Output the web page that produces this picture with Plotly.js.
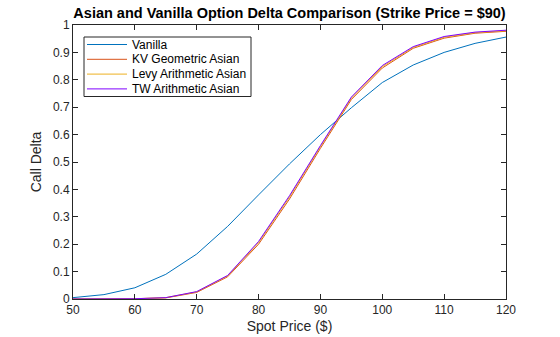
<!DOCTYPE html>
<html>
<head>
<meta charset="utf-8">
<script src="https://cdn.plot.ly/plotly-3.0.1.min.js"></script>
<style>html,body{margin:0;padding:0;background:#fff;}#chart{width:560px;height:337px;}</style>
</head>
<body>
<div id="chart"></div>
<script>
const spotPrice = [50, 55, 60, 65, 70, 75, 80, 85, 90, 95, 100, 105, 110, 115, 120];
const vanilla = [0.005, 0.016, 0.041, 0.09, 0.164, 0.265, 0.38, 0.493, 0.6, 0.698, 0.79, 0.854, 0.9, 0.933, 0.956];
const kvGeometric = [0, 0, 0.001, 0.004, 0.024, 0.081, 0.2, 0.365, 0.55, 0.728, 0.843, 0.915, 0.952, 0.97, 0.977];
const levyArithmetic = [0, 0, 0.001, 0.005, 0.026, 0.084, 0.206, 0.372, 0.556, 0.733, 0.848, 0.918, 0.955, 0.972, 0.979];
const twArithmetic = [0, 0, 0.001, 0.005, 0.027, 0.086, 0.21, 0.377, 0.56, 0.737, 0.852, 0.921, 0.958, 0.974, 0.981];
const seriesNames = ['Vanilla', 'KV Geometric Asian', 'Levy Arithmetic Asian', 'TW Arithmetic Asian'];
const seriesColors = ['#0072BD', '#D95319', '#EDB120', '#7F00FF'];
const xTicks = [50, 60, 70, 80, 90, 100, 110, 120];
const yTicks = [0, 0.1, 0.2, 0.3, 0.4, 0.5, 0.6, 0.7, 0.8, 0.9, 1];

const FONT = 'Liberation Sans, Arial, sans-serif';
const allY = [vanilla, kvGeometric, levyArithmetic, twArithmetic];
const traces = allY.map((ys, i) => ({
  x: spotPrice, y: ys, type: 'scatter', mode: 'lines', name: seriesNames[i],
  line: {color: seriesColors[i], width: 1}, showlegend: false
}));

// Plot area in pixels: left 73, right 506, top 25, bottom 299
const L = 73, R = 506, T = 25, B = 299;
const px = x => (x - L) / (R - L);
const py = y => (B - y) / (B - T);

// Compact MATLAB-style legend built from shapes + annotations
const shapes = [{
  type: 'rect', xref: 'paper', yref: 'paper',
  x0: px(84), x1: px(251), y0: py(96.5), y1: py(37),
  line: {color: '#262626', width: 1}, fillcolor: '#fff', layer: 'above'
}];
const annotations = [];
seriesNames.forEach((name, i) => {
  const yc = 44.5 + i * 14.8;
  shapes.push({type: 'line', xref: 'paper', yref: 'paper',
    x0: px(87), x1: px(127), y0: py(yc), y1: py(yc),
    line: {color: seriesColors[i], width: 1}, layer: 'above'});
  annotations.push({xref: 'paper', yref: 'paper', x: px(130), y: py(yc),
    xanchor: 'left', yanchor: 'middle', text: name, showarrow: false,
    font: {family: FONT, size: 12, color: '#000'}});
});

const axisCommon = {
  showgrid: false, zeroline: false, showline: true, linecolor: '#262626', linewidth: 1,
  mirror: 'allticks', ticks: 'inside', ticklen: 5, tickcolor: '#262626',
  tickfont: {family: FONT, size: 12, color: '#262626'}
};

const layout = {
  width: 560, height: 337,
  margin: {l: L, r: 560 - R, t: T, b: 337 - B},
  paper_bgcolor: '#fff', plot_bgcolor: '#fff',
  title: {text: '<b>Asian and Vanilla Option Delta Comparison (Strike Price = $90)</b>',
          font: {family: FONT, size: 14.5, color: '#000'},
          x: 0.517, xanchor: 'center', y: 0.962, yanchor: 'middle'},
  xaxis: Object.assign({}, axisCommon, {
    range: [50, 120], tickvals: xTicks, ticktext: xTicks.map(String),
    title: {text: 'Spot Price ($)', standoff: 4, font: {family: FONT, size: 14, color: '#262626'}}
  }),
  yaxis: Object.assign({}, axisCommon, {
    range: [0, 1], tickvals: yTicks, ticktext: yTicks.map(String),
    title: {text: 'Call Delta', standoff: 8, font: {family: FONT, size: 14, color: '#262626'}}
  }),
  showlegend: false,
  shapes: shapes,
  annotations: annotations
};

Plotly.newPlot('chart', traces, layout, {displayModeBar: false, staticPlot: true});
</script>
</body>
</html>
